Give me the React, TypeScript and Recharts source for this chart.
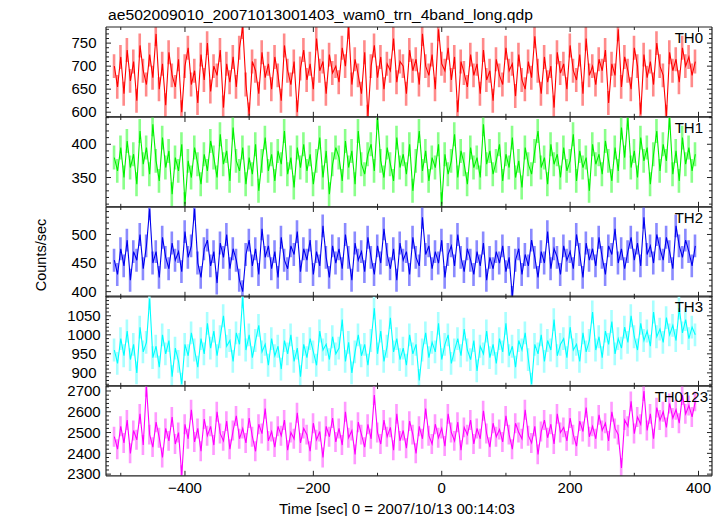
import React from 'react';
import { ComposedChart, Line, Bar, XAxis, YAxis } from 'recharts';

// Time sampling (seconds from 2007/10/13 00:14:03)
const startTime = -510;
const timeStep = 5;

// Counts/sec per band (5 s samples)
const th0 = [
  700, 655, 720, 640, 735, 668, 710, 625, 745, 690,
  660, 725, 675, 770, 650, 705, 615, 730, 680, 655,
  715, 600, 700, 740, 660, 690, 620, 725, 670, 750,
  645, 700, 680, 735, 610, 705, 665, 720, 655, 740,
  785, 660, 595, 710, 690, 640, 730, 675, 705, 650,
  720, 680, 625, 745, 690, 660, 710, 600, 695, 735,
  670, 705, 650, 760, 690, 710, 640, 725, 685, 700,
  665, 740, 700, 785, 660, 715, 680, 640, 730, 590,
  700, 745, 675, 720, 650, 705, 690, 760, 665, 710,
  700, 640, 735, 690, 715, 660, 770, 700, 680, 725,
  650, 780, 705, 690, 740, 670, 720, 600, 710, 685,
  655, 725, 680, 705, 640, 735, 670, 690, 625, 715,
  680, 660, 740, 690, 705, 635, 725, 670, 650, 710,
  675, 765, 690, 640, 720, 665, 700, 610, 730, 685,
  705, 650, 745, 690, 670, 725, 640, 760, 680, 700,
  660, 715, 690, 735, 620, 705, 680, 780, 655, 720,
  690, 650, 740, 700, 595, 725, 675, 710, 660, 750,
  700, 680, 590, 730, 690, 715, 665, 740, 700, 720,
  680, 710,
];
const th1 = [
  380, 360, 395, 350, 405, 365, 385, 340, 420, 370,
  395, 355, 430, 375, 345, 410, 365, 390, 325, 380,
  360, 400, 310, 375, 350, 395, 370, 340, 385, 360,
  405, 380, 350, 415, 370, 390, 345, 425, 375, 360,
  395, 340, 380, 355, 400, 330, 375, 410, 360, 385,
  345, 390, 370, 420, 355, 380, 335, 395, 365, 400,
  360, 385, 340, 375, 410, 350, 390, 325, 370, 395,
  380, 345, 405, 365, 390, 340, 420, 370, 355, 385,
  400, 360, 440, 375, 350, 395, 370, 345, 410, 365,
  385, 355, 400, 330, 375, 420, 360, 390, 345, 380,
  365, 400, 310, 385, 355, 375, 415, 350, 390, 370,
  340, 395, 365, 380, 350, 430, 370, 390, 355, 375,
  400, 345, 385, 365, 410, 350, 375, 335, 395, 370,
  355, 390, 420, 365, 380, 340, 400, 370, 385, 350,
  395, 360, 375, 415, 345, 390, 365, 380, 330, 400,
  370, 385, 355, 405, 375, 345, 395, 360, 425, 380,
  440, 365, 390, 350, 410, 375, 395, 340, 385, 420,
  360, 400, 375, 440, 355, 390, 345, 410, 370, 395,
  360, 385,
];
const th2 = [
  455, 430, 475, 445, 490, 420, 470, 455, 500, 440,
  480, 545, 450, 470, 425, 495, 460, 440, 485, 455,
  470, 435, 505, 460, 480, 545, 450, 425, 475, 490,
  445, 470, 415, 485, 460, 500, 440, 475, 455, 420,
  400, 465, 490, 445, 475, 430, 510, 460, 480, 440,
  470, 425, 495, 455, 440, 480, 465, 505, 435, 475,
  455, 490, 430, 470, 445, 515, 460, 425, 480, 450,
  475, 440, 500, 460, 420, 485, 455, 470, 435, 495,
  460, 430, 480, 450, 510, 465, 440, 475, 420, 485,
  455, 470, 430, 495, 460, 445, 530, 465, 480, 440,
  470, 450, 490, 425, 465, 480, 445, 500, 460, 435,
  475, 455, 430, 470, 445, 485, 420, 460, 440, 470,
  450, 480, 435, 460, 390, 455, 475, 430, 465, 445,
  490, 460, 425, 470, 450, 505, 440, 475, 460, 430,
  480, 455, 470, 440, 500, 465, 425, 485, 455, 475,
  445, 495, 460, 430, 480, 465, 510, 450, 475, 440,
  470, 495, 455, 485, 445, 530, 465, 480, 450, 500,
  475, 455, 495, 470, 440, 515, 480, 460, 490, 470,
  445, 480,
];
const th3 = [
  960, 925, 990, 945, 1010, 935, 975, 900, 1020, 955,
  980, 1095, 940, 970, 915, 1000, 950, 985, 890, 965,
  930, 870, 975, 945, 1005, 960, 915, 990, 950, 1030,
  965, 1010, 945, 995, 1050, 970, 985, 930, 1005, 975,
  1100, 960, 1000, 940, 985, 1025, 955, 975, 920, 990,
  945, 970, 910, 985, 950, 1000, 930, 965, 890, 975,
  940, 990, 955, 920, 1010, 960, 975, 935, 995, 950,
  965, 1040, 930, 980, 900, 955, 1000, 945, 975, 920,
  985, 1070, 950, 1010, 930, 970, 1045, 955, 990, 935,
  965, 920, 1000, 950, 975, 880, 960, 1005, 940, 980,
  955, 1030, 935, 975, 1000, 925, 960, 990, 945, 1015,
  960, 935, 985, 905, 970, 950, 1010, 940, 975, 925,
  990, 955, 1030, 945, 970, 915, 985, 960, 1005, 935,
  870, 975, 950, 1000, 930, 985, 960, 1040, 945, 975,
  990, 940, 1020, 960, 975, 930, 1005, 955, 985, 1060,
  960, 995, 940, 1010, 975, 1035, 950, 990, 965, 1020,
  980, 1050, 995, 960, 1030, 985, 1010, 970, 1060, 995,
  1015, 980, 1045, 1000, 1025, 985, 1070, 1005, 1040, 990,
  1020, 1000,
];
const th0123 = [
  2480, 2420, 2530, 2450, 2560, 2400, 2510, 2465, 2590, 2440,
  2720, 2490, 2430, 2550, 2475, 2380, 2520, 2460, 2575, 2445,
  2500, 2295, 2540, 2470, 2610, 2455, 2520, 2410, 2565, 2485,
  2530, 2440, 2600, 2495, 2460, 2555, 2420, 2510, 2580, 2470,
  2520, 2450, 2570, 2480, 2410, 2540, 2495, 2615, 2460, 2505,
  2430, 2530, 2485, 2560, 2415, 2500, 2470, 2595, 2450, 2520,
  2490, 2410, 2545, 2465, 2505, 2380, 2530, 2480, 2570, 2455,
  2520, 2440, 2600, 2475, 2510, 2395, 2550, 2490, 2430, 2540,
  2470, 2680, 2500, 2445, 2560, 2480, 2525, 2415, 2590, 2460,
  2510, 2425, 2555, 2490, 2400, 2530, 2470, 2615, 2485, 2445,
  2540, 2475, 2520, 2435, 2590, 2500, 2460, 2550, 2415, 2525,
  2490, 2560, 2445, 2520, 2470, 2605, 2495, 2430, 2545, 2480,
  2515, 2455, 2580, 2490, 2420, 2545, 2500, 2470, 2610, 2485,
  2450, 2530, 2395, 2505, 2560, 2475, 2540, 2445, 2590, 2500,
  2525, 2460, 2570, 2490, 2435, 2555, 2505, 2620, 2480, 2530,
  2470, 2585, 2510, 2545, 2460, 2600, 2520, 2490, 2330, 2560,
  2530, 2650, 2495, 2575, 2540, 2700, 2510, 2590, 2470, 2620,
  2560, 2600, 2525, 2640, 2570, 2610, 2545, 2680, 2590, 2630,
  2575, 2650,
];

// Typical 1-sigma error per band (lighter bars)
const th0Err = 26;
const th1Err = 18;
const th2Err = 20;
const th3Err = 30;
const th0123Err = 48;

// Labelled y values per panel
const th0Labels = [600, 650, 700, 750];
const th1Labels = [350, 400];
const th2Labels = [400, 450, 500];
const th3Labels = [900, 950, 1000, 1050];
const th0123Labels = [2300, 2400, 2500, 2600, 2700];

const xDomain: [number, number] = [-523, 421];
const xTicks = [-500, -400, -300, -200, -100, 0, 100, 200, 300, 400];
const xLabels = [-400, -200, 0, 200, 400];

const FONT = '"Liberation Sans", Arial, Helvetica, sans-serif';
const FRAME = '#222';

type Panel = {
  label: string;
  values: number[];
  err: number;
  color: string;
  light: string;
  domain: [number, number];
  labels: number[];
  minorStep: number;
  labelX: number;
};

const panels: Panel[] = [
  { label: 'TH0', values: th0, err: th0Err, color: '#ff0000', light: '#ff8a8a', domain: [590, 785], labels: th0Labels, minorStep: 10, labelX: 703 },
  { label: 'TH1', values: th1, err: th1Err, color: '#00f000', light: '#8aff8a', domain: [306, 441], labels: th1Labels, minorStep: 10, labelX: 703 },
  { label: 'TH2', values: th2, err: th2Err, color: '#0000ee', light: '#8a8aff', domain: [391, 548], labels: th2Labels, minorStep: 10, labelX: 703 },
  { label: 'TH3', values: th3, err: th3Err, color: '#00ffff', light: '#a8ffff', domain: [866, 1102], labels: th3Labels, minorStep: 10, labelX: 703 },
  { label: 'TH0123', values: th0123, err: th0123Err, color: '#ff00ff', light: '#ff9aff', domain: [2292, 2724], labels: th0123Labels, minorStep: 20, labelX: 708 },
];

const PLOT_TOP = 27;
const PLOT_BOTTOM = 476;
const PANEL_H = (PLOT_BOTTOM - PLOT_TOP) / panels.length;

const buildYTicks = (domain: [number, number], step: number) => {
  const out: number[] = [];
  for (let v = Math.ceil(domain[0] / step) * step; v <= domain[1]; v += step) out.push(v);
  return out;
};

const fmt = (v: number) => (v < 0 ? '\u2212' + Math.abs(v) : String(v));

const makeLeftTick = (labels: number[]) => (props: any) => {
  const { x, y, payload } = props;
  const v = payload.value;
  const m = labels.includes(v);
  return (
    <g>
      <line x1={x} x2={x + (m ? 5 : 3)} y1={y} y2={y} stroke={FRAME} strokeWidth={1} />
      {m && (
        <text x={x - 22} y={y} dy={5.2} textAnchor="middle" fontSize={15} fontFamily={FONT} fill="#000">
          {v}
        </text>
      )}
    </g>
  );
};

const makeRightTick = (labels: number[]) => (props: any) => {
  const { x, y, payload } = props;
  const m = labels.includes(payload.value);
  return <line x1={x} x2={x - (m ? 5 : 3)} y1={y} y2={y} stroke={FRAME} strokeWidth={1} />;
};

const topTick = (props: any) => {
  const { x, y, payload } = props;
  const m = xLabels.includes(payload.value);
  return <line x1={x} x2={x} y1={y} y2={y + (m ? 5 : 3)} stroke={FRAME} strokeWidth={1} />;
};

const makeBottomTick = (showLabel: boolean) => (props: any) => {
  const { x, y, payload } = props;
  const v = payload.value;
  const m = xLabels.includes(v);
  return (
    <g>
      <line x1={x} x2={x} y1={y} y2={y - (m ? 5 : 3)} stroke={FRAME} strokeWidth={1} />
      {showLabel && m && (
        <text x={x} y={y + 17} textAnchor="middle" fontSize={15} fontFamily={FONT} fill="#000">
          {fmt(v)}
        </text>
      )}
    </g>
  );
};

const axisLine = { stroke: FRAME, strokeWidth: 1.2 };

function PanelChart({ p, index }: { p: Panel; index: number }) {
  const last = index === panels.length - 1;
  const rows = p.values.map((v, i) => ({ t: startTime + i * timeStep, v, range: [v - p.err, v + p.err] }));
  const yTicks = buildYTicks(p.domain, p.minorStep);
  const extra = last ? 40 : 0;
  const h = PANEL_H + 2 + extra;
  return (
    <div style={{ position: 'absolute', left: 0, top: PLOT_TOP + index * PANEL_H - 1, width: 724, height: h }}>
      <ComposedChart width={724} height={h} data={rows} margin={{ top: 0, right: 11, bottom: extra, left: 0 }}>
        <XAxis xAxisId="b" orientation="bottom" dataKey="t" type="number" domain={xDomain} allowDataOverflow ticks={xTicks} interval={0} tickSize={0} tickMargin={0} tickLine={false} axisLine={axisLine} tick={makeBottomTick(last)} height={1} />
        <XAxis xAxisId="t" orientation="top" dataKey="t" type="number" domain={xDomain} allowDataOverflow ticks={xTicks} interval={0} tickSize={0} tickMargin={0} tickLine={false} axisLine={axisLine} tick={topTick} height={1} />
        <YAxis yAxisId="l" orientation="left" type="number" domain={p.domain} allowDataOverflow ticks={yTicks} interval={0} tickSize={0} tickMargin={0} tickLine={false} axisLine={axisLine} tick={makeLeftTick(p.labels)} width={106} />
        <YAxis yAxisId="r" orientation="right" type="number" domain={p.domain} allowDataOverflow ticks={yTicks} interval={0} tickSize={0} tickMargin={0} tickLine={false} axisLine={axisLine} tick={makeRightTick(p.labels)} width={1} />
        <Bar xAxisId="t" yAxisId="r" dataKey="range" fill={p.light} barSize={2.6} isAnimationActive={false} />
        <Line xAxisId="b" yAxisId="l" type="linear" dataKey="v" stroke={p.color} strokeWidth={1.1} dot={false} activeDot={false} isAnimationActive={false} />
      </ComposedChart>
    </div>
  );
}

export default function App() {
  return (
    <div style={{ position: 'absolute', left: 0, top: 0, width: 724, height: 516, background: '#fff', overflow: 'hidden' }}>
      <style>{`.recharts-surface{overflow:visible}`}</style>
      {panels.map((p, i) => (
        <PanelChart key={p.label} p={p} index={i} />
      ))}
      <svg width={724} height={516} style={{ position: 'absolute', left: 0, top: 0, pointerEvents: 'none' }}>
        <text x={108} y={20} fontSize={14} fontFamily={FONT} fill="#000" textLength={425} lengthAdjust="spacingAndGlyphs">
          ae502009010_20071013001403_wam0_trn_4band_long.qdp
        </text>
        <text x={279} y={514} fontSize={15} fontFamily={FONT} fill="#000">
          Time [sec] 0 = 2007/10/13 00:14:03
        </text>
        <text x={46} y={255} fontSize={14.5} fontFamily={FONT} fill="#000" textAnchor="middle" transform="rotate(-90 46 255)">
          Counts/sec
        </text>
        {panels.map((p, i) => (
          <text key={p.label} x={p.labelX} y={PLOT_TOP + i * PANEL_H + 16} fontSize={15} fontFamily={FONT} fill="#000" textAnchor="end">
            {p.label}
          </text>
        ))}
      </svg>
    </div>
  );
}
